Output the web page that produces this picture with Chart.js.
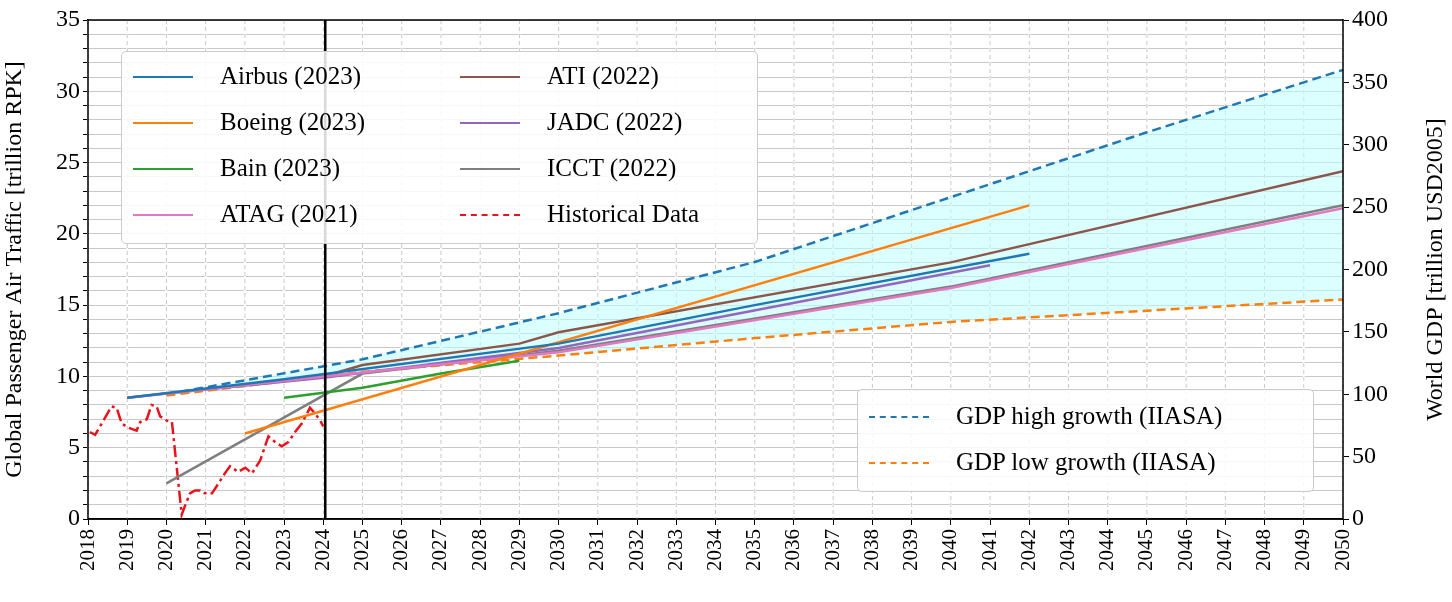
<!DOCTYPE html>
<html>
<head>
<meta charset="utf-8">
<script src="https://cdn.jsdelivr.net/npm/chart.js@4"></script>
<style>
  body { margin: 0; background: #fff; }
  #wrap { position: relative; width: 1452px; height: 602px; }
  .legend { position: absolute; background: rgba(255,255,255,0.85); border: 1.5px solid #ccc; border-radius: 5px;
            font-family: "Liberation Serif", serif; font-size: 25px; color: #000; }
  .item { position: absolute; white-space: nowrap; }
  .item span.ln { position: absolute; top: 14px; width: 60px; height: 0; }
  .item span.tx { position: absolute; left: 87px; top: 0; }
</style>
</head>
<body>
<div id="wrap">
  <canvas id="chart" width="1452" height="602"></canvas>
  <div class="legend" id="leg1" style="left:121px;top:51px;width:635px;height:191px;"></div>
  <div class="legend" id="leg2" style="left:857px;top:389px;width:455px;height:101px;"></div>
</div>
<script>
const yearTicks = [];
for (let y = 2018; y <= 2050; y++) yearTicks.push(y);

// historical traffic (trillion RPK)
const histYears = [2018.05, 2018.18, 2018.35, 2018.60, 2018.73, 2018.86, 2019.03, 2019.24, 2019.33, 2019.50, 2019.62, 2019.75, 2019.84, 2020.01, 2020.14, 2020.39, 2020.47, 2020.60, 2020.73, 2020.86, 2020.98, 2021.16, 2021.28, 2021.49, 2021.62, 2021.83, 2022.01, 2022.18, 2022.39, 2022.60, 2022.77, 2022.94, 2023.11, 2023.28, 2023.45, 2023.66, 2023.79, 2023.92, 2024.0];
const histValues = [6.1, 5.9, 6.7, 7.9, 7.8, 6.7, 6.4, 6.2, 6.8, 7.0, 8.0, 7.9, 7.2, 6.9, 6.8, 0.3, 0.9, 1.8, 2.0, 2.0, 1.8, 1.8, 2.3, 3.2, 3.7, 3.3, 3.6, 3.2, 4.1, 5.8, 5.4, 5.1, 5.4, 6.1, 6.7, 7.8, 7.4, 6.9, 6.5];

// forecasts (trillion RPK)
const airbusYears = [2019, 2023, 2030, 2035, 2042];
const airbusValues = [8.5, 9.8, 12.3, 15.0, 18.6];
const boeingYears = [2022, 2042];
const boeingValues = [6.0, 22.0];
const bainYears = [2023, 2025, 2027, 2029];
const bainValues = [8.5, 9.2, 10.2, 11.1];
const atagYears = [2019, 2024, 2030, 2040, 2050];
const atagValues = [8.5, 10.0, 11.7, 16.2, 21.8];
const atiYears = [2024, 2025, 2029, 2030, 2040, 2050];
const atiValues = [10.0, 10.8, 12.3, 13.1, 18.0, 24.4];
const jadcYears = [2019, 2020, 2024, 2030, 2041];
const jadcValues = [8.5, 8.8, 9.9, 12.0, 17.8];
const icctYears = [2020, 2025, 2030, 2040, 2050];
const icctValues = [2.5, 10.2, 11.8, 16.3, 22.0];

// GDP scenarios (trillion USD2005)
const gdpYears = [2020, 2025, 2030, 2035, 2040, 2045, 2050];
const gdpHigh = [100, 128, 165, 206, 258, 310, 360];
const gdpLow = [99, 118, 131, 145, 158, 167, 176];

const nowYear = 2024.05;

const pts = (xs, ys) => xs.map((x, i) => ({ x: x, y: ys[i] }));

function line(label, xs, ys, color, extra) {
  return Object.assign({
    label: label, data: pts(xs, ys), borderColor: color, backgroundColor: color,
    borderWidth: 2.5, pointRadius: 0, fill: false, tension: 0, yAxisID: "y", order: 1
  }, extra || {});
}

const serif = "'Liberation Serif', serif";

const datasets = [
  line("GDP high growth (IIASA)", gdpYears, gdpHigh, "#1f77b4",
       { yAxisID: "y2", borderDash: [9, 5], fill: 1, backgroundColor: "rgba(190,255,255,0.55)", order: 10 }),
  line("GDP low growth (IIASA)", gdpYears, gdpLow, "#ff7f0e", { yAxisID: "y2", borderDash: [9, 5], order: 9 }),
  line("Airbus (2023)", airbusYears, airbusValues, "#1f77b4"),
  line("Boeing (2023)", boeingYears, boeingValues, "#ff7f0e"),
  line("Bain (2023)", bainYears, bainValues, "#2ca02c"),
  line("ATAG (2021)", atagYears, atagValues, "#e377c2"),
  line("ATI (2022)", atiYears, atiValues, "#8c564b"),
  line("JADC (2022)", jadcYears, jadcValues, "#9467bd"),
  line("ICCT (2022)", icctYears, icctValues, "#7f7f7f"),
  line("Historical Data", histYears, histValues, "#e8141b", { borderDash: [12, 4, 3, 4] }),
  line("now", [nowYear, nowYear], [0, 35], "#000", { borderWidth: 2.5, order: 0 })
];

new Chart(document.getElementById("chart"), {
  type: "line",
  data: { datasets: datasets },
  options: {
    responsive: false,
    animation: false,
    layout: { padding: { top: 20, left: 0, right: 0, bottom: 0 } },
    plugins: { legend: { display: false }, tooltip: { enabled: false }, filler: { drawTime: "beforeDatasetDraw" } },
    scales: {
      x: {
        type: "linear", min: 2018, max: 2050,
        afterBuildTicks: s => { s.ticks = yearTicks.map(v => ({ value: v })); },
        afterFit: s => { s.height = 83; },
        ticks: { maxRotation: 90, minRotation: 90, color: "#000", font: { family: serif, size: 21 }, callback: v => String(v), padding: 4 },
        grid: { color: "#c8c8c8", lineWidth: 1, drawTicks: true, tickLength: 6, tickColor: "#000" },
        border: { color: "#000", width: 1.5 }
      },
      y: {
        position: "left", min: 0, max: 35,
        afterFit: s => { s.width = 88; },
        ticks: { stepSize: 1, autoSkip: false, color: "#000", font: { family: serif, size: 24 },
                 callback: v => (v % 5 === 0 ? String(v) : "") },
        grid: { color: "#c8c8c8", lineWidth: 1, tickColor: "#000", tickLength: 5 },
        border: { color: "#000", width: 1.5 },
        title: { display: true, text: "Global Passenger Air Traffic [trillion RPK]", color: "#000", font: { family: serif, size: 24 }, padding: 0 }
      },
      y2: {
        position: "right", min: 0, max: 400,
        afterFit: s => { s.width = 109; },
        ticks: { stepSize: 50, color: "#000", font: { family: serif, size: 24 } },
        grid: { drawOnChartArea: false, tickColor: "#000", tickLength: 6 },
        border: { color: "#000", width: 1.5 }
      }
    }
  },
  plugins: [{
    id: "extras",
    beforeDraw(chart) {
      const ctx = chart.ctx;
      ctx.save();
      ctx.fillStyle = "#fff";
      ctx.fillRect(0, 0, chart.width, chart.height);
      ctx.restore();
    },
    beforeDatasetsDraw(chart) {
      // dashed vertical grid
      const ctx = chart.ctx, a = chart.chartArea, x = chart.scales.x;
      ctx.save();
      yearTicks.forEach(v => {
        const px = x.getPixelForValue(v);
        ctx.strokeStyle = "#fff"; ctx.lineWidth = 2; ctx.setLineDash([]);
        ctx.beginPath(); ctx.moveTo(px, a.top); ctx.lineTo(px, a.bottom); ctx.stroke();
        ctx.strokeStyle = "#c8c8c8"; ctx.lineWidth = 1; ctx.setLineDash([4, 3]);
        ctx.beginPath(); ctx.moveTo(px, a.top); ctx.lineTo(px, a.bottom); ctx.stroke();
      });
      ctx.restore();
    },
    afterDraw(chart) {
      const ctx = chart.ctx, a = chart.chartArea;
      ctx.save();
      ctx.strokeStyle = "#000"; ctx.lineWidth = 1.5;
      ctx.strokeRect(a.left, a.top, a.right - a.left, a.bottom - a.top);
      // right axis title, reading bottom to top
      ctx.translate(1436, (a.top + a.bottom) / 2);
      ctx.rotate(-Math.PI / 2);
      ctx.fillStyle = "#000";
      ctx.font = "24px " + serif;
      ctx.textAlign = "center"; ctx.textBaseline = "middle";
      ctx.fillText("World GDP [trillion USD2005]", 0, 0);
      ctx.restore();
    }
  }]
});

// legends as HTML boxes
function fillLegend(id, items) {
  const box = document.getElementById(id);
  items.forEach(it => {
    const d = document.createElement("div");
    d.className = "item";
    d.style.left = it.x + "px"; d.style.top = it.y + "px";
    const ds = datasets.find(s => s.label === it.label);
    const style = ds.borderDash ? "dashed" : "solid";
    d.innerHTML = '<span class="ln" style="border-top:2.5px ' + style + ' ' + ds.borderColor + '"></span><span class="tx">' + it.label + '</span>';
    box.appendChild(d);
  });
}
fillLegend("leg1", [
  { label: "Airbus (2023)", x: 11, y: 10 }, { label: "Boeing (2023)", x: 11, y: 56 },
  { label: "Bain (2023)", x: 11, y: 102 }, { label: "ATAG (2021)", x: 11, y: 148 },
  { label: "ATI (2022)", x: 338, y: 10 }, { label: "JADC (2022)", x: 338, y: 56 },
  { label: "ICCT (2022)", x: 338, y: 102 }, { label: "Historical Data", x: 338, y: 148 }
]);
fillLegend("leg2", [
  { label: "GDP high growth (IIASA)", x: 11, y: 12 }, { label: "GDP low growth (IIASA)", x: 11, y: 58 }
]);
</script>
</body>
</html>
